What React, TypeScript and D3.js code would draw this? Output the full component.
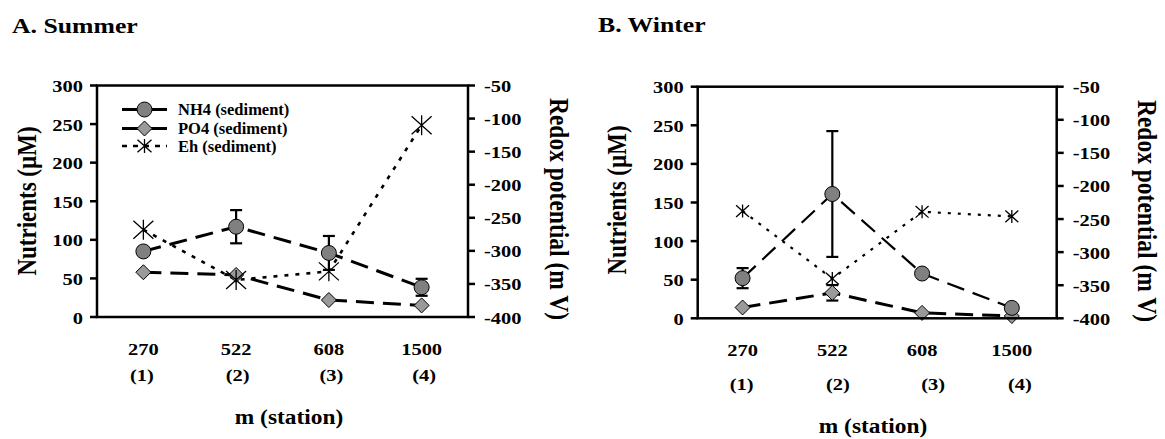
import React from "react";
import { scalePoint, scaleLinear, line } from "d3";

// stations along the x axis
const stations = ["270", "522", "608", "1500"];
const stationNums = ["(1)", "(2)", "(3)", "(4)"];
const nutrientTicks = [0, 50, 100, 150, 200, 250, 300];
const redoxTicks = [-400, -350, -300, -250, -200, -150, -100, -50];

// A. Summer
const summerNH4 = [85, 117, 83, 38.5];
const summerNH4Err = [3, 21.5, 22, 11];
const summerPO4 = [58, 54.5, 22, 15];
const summerEh = [-268, -344, -331, -110];

// B. Winter
const winterNH4 = [52, 161, 58, 13.5];
const winterNH4Err = [13, 81.5, 3, 3];
const winterPO4 = [14, 33, 7, 3];
const winterPO4Err = [0, 10, 0, 0];
const winterEh = [-238, -340, -239, -246];

const FONT = "'Liberation Serif', 'Times New Roman', serif";
const SX = 1.17; // text in the picture is a bit wide

function HText({ x, y, size, anchor = "middle", sx = SX, children }) {
  return (
    <text
      transform={`translate(${x},${y}) scale(${sx},1)`}
      textAnchor={anchor}
      fontSize={size}
      fontWeight="bold"
      fontFamily={FONT}
      fill="#000"
    >
      {children}
    </text>
  );
}

function VText({ x, y, size, angle, children }) {
  return (
    <text
      transform={`translate(${x},${y}) scale(${SX},1) rotate(${angle})`}
      textAnchor="middle"
      dominantBaseline="central"
      fontSize={size}
      fontWeight="bold"
      fontFamily={FONT}
      fill="#000"
    >
      {children}
    </text>
  );
}

const Circle = ({ cx, cy }) => (
  <circle cx={cx} cy={cy} r={7.5} fill="#808080" stroke="#000" strokeWidth={1} />
);
const Diamond = ({ cx, cy }) => (
  <path
    d={`M${cx},${cy - 7.5}L${cx + 7.5},${cy}L${cx},${cy + 7.5}L${cx - 7.5},${cy}Z`}
    fill="#9a9a9a"
    stroke="#000"
    strokeWidth={1}
  />
);
const Star = ({ cx, cy, s }) => (
  <path
    d={`M${cx - s},${cy - s * 0.9}L${cx + s},${cy + s * 0.9}M${cx - s},${cy + s * 0.9}L${cx + s},${cy - s * 0.9}M${cx},${cy - s}L${cx},${cy + s}`}
    stroke="#000"
    strokeWidth={1.3}
    fill="none"
  />
);

function Panel(props) {
  const { title, titleX, titleY, left, right, top, bottom, nh4, nh4Err, po4, po4Err, eh } = props;
  const { leftLabelX, leftLabelY, rightLabelX, rightLabelY, numY, numDx, xTitleX, xTitleY } = props;
  const { nh4Width, ehDash, ehWidth, starSize, legend } = props;

  const x = scalePoint().domain(stations).range([left, right]).padding(0.5);
  const y = scaleLinear().domain([0, 300]).range([bottom, top]);
  const y2 = scaleLinear().domain([-400, -50]).range([bottom, top]);

  const lineN = line<number>()
    .x((d, i) => x(stations[i]))
    .y((d) => y(d));
  const lineE = line<number>()
    .x((d, i) => x(stations[i]))
    .y((d) => y2(d));

  const errBar = (vals, errs, key) =>
    vals.map((v, i) =>
      errs[i] > 0 ? (
        <g key={key + i} stroke="#000" strokeWidth={2.2}>
          <line x1={x(stations[i])} x2={x(stations[i])} y1={y(v - errs[i])} y2={y(v + errs[i])} />
          <line x1={x(stations[i]) - 6} x2={x(stations[i]) + 6} y1={y(v + errs[i])} y2={y(v + errs[i])} />
          <line x1={x(stations[i]) - 6} x2={x(stations[i]) + 6} y1={y(v - errs[i])} y2={y(v - errs[i])} />
        </g>
      ) : null
    );

  return (
    <g>
      <HText x={titleX} y={titleY} size={22} anchor="start">
        {title}
      </HText>

      {/* lines */}
      <path d={lineN(nh4)} fill="none" stroke="#000" strokeWidth={nh4Width} strokeDasharray="18,9" />
      <path d={lineN(po4)} fill="none" stroke="#000" strokeWidth={3} strokeDasharray="18,9" />
      <path d={lineE(eh)} fill="none" stroke="#000" strokeWidth={ehWidth} strokeDasharray={ehDash} />

      {errBar(nh4, nh4Err, "n")}
      {errBar(po4, po4Err, "p")}

      {po4.map((v, i) => (
        <Diamond key={"d" + i} cx={x(stations[i])} cy={y(v)} />
      ))}
      {nh4.map((v, i) => (
        <Circle key={"c" + i} cx={x(stations[i])} cy={y(v)} />
      ))}
      {eh.map((v, i) => (
        <Star key={"s" + i} cx={x(stations[i])} cy={y2(v)} s={starSize} />
      ))}

      {/* frame and axes */}
      <rect x={left} y={top} width={right - left} height={bottom - top} fill="none" stroke="#000" strokeWidth={2.5} />
      {nutrientTicks.map((t) => (
        <g key={"lt" + t}>
          <line x1={left - 7} x2={left} y1={y(t)} y2={y(t)} stroke="#000" strokeWidth={2.5} />
          <HText x={left - 14} y={y(t) + 6.5} size={17.5} anchor="end">
            {t}
          </HText>
        </g>
      ))}
      {redoxTicks.map((t) => (
        <g key={"rt" + t}>
          <line x1={right} x2={right + 7} y1={y2(t)} y2={y2(t)} stroke="#000" strokeWidth={2.5} />
          <HText x={right + 16} y={y2(t) + 6.5} size={17.5} anchor="start">
            {t}
          </HText>
        </g>
      ))}

      {stations.map((s, i) => (
        <g key={"x" + s}>
          <HText x={x(s)} y={355 + (numY - 381) * 0.1} size={17.5}>
            {s}
          </HText>
          <HText x={x(s) + numDx[i]} y={numY} size={17.5}>
            {stationNums[i]}
          </HText>
        </g>
      ))}

      <VText x={leftLabelX} y={leftLabelY} size={23} angle={-90}>
        Nutrients (µM)
      </VText>
      <VText x={rightLabelX} y={rightLabelY} size={23.5} angle={90}>
        Redox potential (m V)
      </VText>
      <HText x={xTitleX} y={xTitleY} size={20}>
        m (station)
      </HText>

      {legend && (
        <g>
          {["NH4 (sediment)", "PO4 (sediment)", "Eh (sediment)"].map((lab, i) => {
            const ly = [109.5, 128.5, 146][i];
            const lx1 = left + 25;
            const lx2 = left + 70;
            const mx = (lx1 + lx2) / 2;
            return (
              <g key={lab}>
                <line
                  x1={lx1}
                  x2={lx2}
                  y1={ly}
                  y2={ly}
                  stroke="#000"
                  strokeWidth={i === 2 ? 2.5 : 3}
                  strokeDasharray={i === 2 ? "5,6" : "none"}
                />
                {i === 0 && <Circle cx={mx} cy={ly} />}
                {i === 1 && <Diamond cx={mx} cy={ly} />}
                {i === 2 && <Star cx={mx} cy={ly} s={7} />}
                <HText x={lx2 + 11} y={ly + 5.5} size={16.5} anchor="start" sx={1}>
                  {lab}
                </HText>
              </g>
            );
          })}
        </g>
      )}
    </g>
  );
}

export default function App() {
  return (
    <svg
      width={1165}
      height={439}
      style={{ position: "absolute", left: 0, top: 0, background: "#fff", display: "block" }}
    >
      <rect width={1165} height={439} fill="#fff" />
      <Panel
        title="A. Summer"
        titleX={12}
        titleY={33}
        left={97}
        right={468}
        top={85.5}
        bottom={317}
        nh4={summerNH4}
        nh4Err={summerNH4Err}
        po4={summerPO4}
        po4Err={[0, 0, 0, 0]}
        eh={summerEh}
        leftLabelX={27}
        leftLabelY={201}
        rightLabelX={559}
        rightLabelY={209}
        numY={381}
        numDx={[-1.5, 1.5, 2.5, 2.5]}
        xTitleX={289}
        xTitleY={424}
        nh4Width={3}
        ehDash="4,7"
        ehWidth={2.6}
        starSize={10}
        legend={true}
      />
      <Panel
        title="B. Winter"
        titleX={598}
        titleY={32}
        left={697.7}
        right={1056.7}
        top={86.7}
        bottom={318.3}
        nh4={winterNH4}
        nh4Err={winterNH4Err}
        po4={winterPO4}
        po4Err={winterPO4Err}
        eh={winterEh}
        leftLabelX={617}
        leftLabelY={200}
        rightLabelX={1147.5}
        rightLabelY={211}
        numY={390}
        numDx={[-1, 5.5, 11, 8]}
        xTitleX={873}
        xTitleY={433}
        nh4Width={2.2}
        ehDash="3,7"
        ehWidth={2.2}
        starSize={6.5}
        legend={false}
      />
    </svg>
  );
}
